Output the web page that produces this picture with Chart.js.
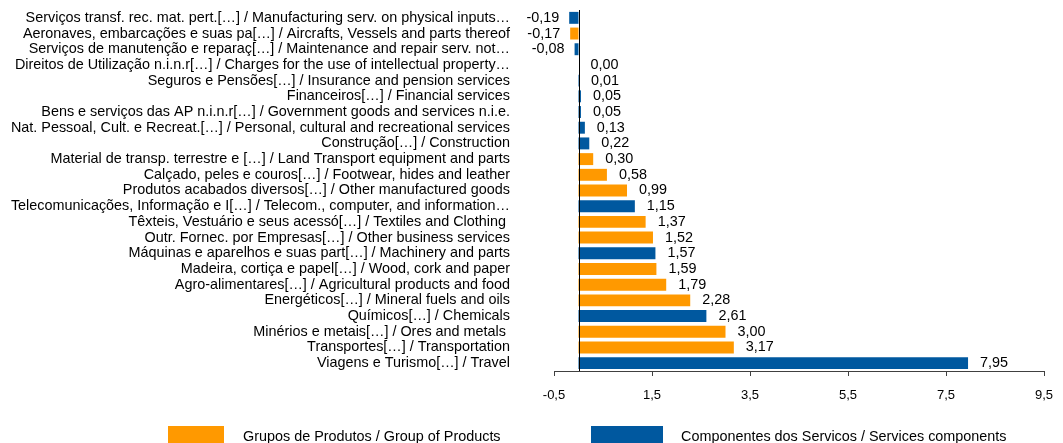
<!DOCTYPE html>
<html>
<head>
<meta charset="utf-8">
<script src="https://cdn.jsdelivr.net/npm/chart.js@4.4.1/dist/chart.umd.min.js"></script>
<style>
  body { margin: 0; background: #fff; }
  #wrap { position: relative; width: 1063px; height: 443px; overflow: hidden; }
  .leg { position: absolute; font: 14.4px "Liberation Sans", Arial, sans-serif; color: #000; white-space: nowrap; }
  .box { position: absolute; height: 18px; }
</style>
</head>
<body>
<div id="wrap">
  <canvas id="chart" width="1063" height="443"></canvas>
  <div class="box" id="boxProd" style="left:168px; top:426px; width:56px;"></div>
  <div class="leg" id="txtProd" style="left:243px; top:428px;"></div>
  <div class="box" id="boxServ" style="left:591px; top:426px; width:72px;"></div>
  <div class="leg" id="txtServ" style="left:681px; top:428px;"></div>
</div>
<script>
const PRODUCT_COLOR = '#ff9900';
const SERVICE_COLOR = '#00589f';

const SERIES_NAMES = ['Grupos de Produtos / Group of Products', 'Componentes dos Servicos / Services components'];

// ordem de cima para baixo, como no grafico
const CATEGORIES = [
  'Serviços transf. rec. mat. pert.[…] / Manufacturing serv. on physical inputs…',
  'Aeronaves, embarcações e suas pa[…] / Aircrafts, Vessels and parts thereof',
  'Serviços de manutenção e reparaç[…] / Maintenance and repair serv. not…',
  'Direitos de Utilização n.i.n.r[…] / Charges for the use of intellectual property…',
  'Seguros e Pensões[…] / Insurance and pension services',
  'Financeiros[…] / Financial services',
  'Bens e serviços das AP n.i.n.r[…] / Government goods and services n.i.e.',
  'Nat. Pessoal, Cult. e Recreat.[…] / Personal, cultural and recreational services',
  'Construção[…] / Construction',
  'Material de transp. terrestre e […] / Land Transport equipment and parts',
  'Calçado, peles e couros[…] / Footwear, hides and leather',
  'Produtos acabados diversos[…] / Other manufactured goods',
  'Telecomunicações, Informação e I[…] / Telecom., computer, and information…',
  'Têxteis, Vestuário e seus acessó[…] / Textiles and Clothing ',
  'Outr. Fornec. por Empresas[…] / Other business services',
  'Máquinas e aparelhos e suas part[…] / Machinery and parts',
  'Madeira, cortiça e papel[…] / Wood, cork and paper',
  'Agro-alimentares[…] / Agricultural products and food',
  'Energéticos[…] / Mineral fuels and oils',
  'Químicos[…] / Chemicals',
  'Minérios e metais[…] / Ores and metals ',
  'Transportes[…] / Transportation',
  'Viagens e Turismo[…] / Travel'
];

const PRODUCT_VALUES = [null, -0.17, null, null, null, null, null, null, null, 0.30, 0.58, 0.99, null, 1.37, 1.52, null, 1.59, 1.79, 2.28, null, 3.00, 3.17, null];
const SERVICE_VALUES = [-0.19, null, -0.08, 0.00, 0.01, 0.05, 0.05, 0.13, 0.22, null, null, null, 1.15, null, null, 1.57, null, null, null, 2.61, null, null, 7.95];

const X_TICKS = [-0.5, 1.5, 3.5, 5.5, 7.5, 9.5];

const FONT_FAMILY = '"Liberation Sans", Arial, sans-serif';
const NARROW_FAMILY = '"Liberation Sans Narrow", "Arial Narrow", "Liberation Sans", sans-serif';
const TEXT_SIZE = 14.4;

function formatComma(v, decimals) {
  return v.toFixed(decimals).replace('.', ',');
}

// linha vertical no zero
const zeroLinePlugin = {
  id: 'zeroLine',
  afterDatasetsDraw(chart) {
    const { ctx, chartArea, scales } = chart;
    const x = Math.round(scales.x.getPixelForValue(0)) + 0.5;
    ctx.save();
    ctx.strokeStyle = '#000';
    ctx.lineWidth = 1;
    ctx.beginPath();
    ctx.moveTo(x, chartArea.top);
    ctx.lineTo(x, chartArea.bottom);
    ctx.stroke();
    ctx.restore();
  }
};

// etiquetas com os valores ao lado de cada barra
const valueLabelsPlugin = {
  id: 'valueLabels',
  afterDatasetsDraw(chart) {
    const ctx = chart.ctx;
    ctx.save();
    ctx.font = TEXT_SIZE + 'px ' + FONT_FAMILY;
    ctx.fillStyle = '#000';
    ctx.textBaseline = 'middle';
    chart.data.datasets.forEach((ds, di) => {
      chart.getDatasetMeta(di).data.forEach((bar, i) => {
        const v = ds.data[i];
        if (v === null) return;
        const txt = formatComma(v, 2);
        if (v < 0) {
          ctx.textAlign = 'right';
          ctx.fillText(txt, bar.x - 10, bar.y);
        } else {
          ctx.textAlign = 'left';
          ctx.fillText(txt, bar.x + 12, bar.y);
        }
      });
    });
    ctx.restore();
  }
};

document.getElementById('boxProd').style.background = PRODUCT_COLOR;
document.getElementById('boxServ').style.background = SERVICE_COLOR;
document.getElementById('txtProd').textContent = SERIES_NAMES[0];
document.getElementById('txtServ').textContent = SERIES_NAMES[1];

Chart.defaults.font.family = FONT_FAMILY;
Chart.defaults.font.size = TEXT_SIZE;
Chart.defaults.color = '#000';

new Chart(document.getElementById('chart').getContext('2d'), {
  type: 'bar',
  data: {
    labels: CATEGORIES,
    datasets: [
      {
        label: SERIES_NAMES[0],
        data: PRODUCT_VALUES,
        backgroundColor: PRODUCT_COLOR,
        barPercentage: 0.76,
        categoryPercentage: 1
      },
      {
        label: SERIES_NAMES[1],
        data: SERVICE_VALUES,
        backgroundColor: SERVICE_COLOR,
        barPercentage: 0.76,
        categoryPercentage: 1
      }
    ]
  },
  options: {
    indexAxis: 'y',
    responsive: false,
    animation: false,
    grouped: false,
    layout: { padding: { top: 10, right: 19, bottom: 0, left: 0 } },
    plugins: {
      legend: { display: false },
      tooltip: { enabled: false }
    },
    scales: {
      x: {
        type: 'linear',
        min: -0.5,
        max: 9.5,
        afterBuildTicks: s => { s.ticks = X_TICKS.map(v => ({ value: v })); },
        afterFit: s => { s.height = 72; s.paddingLeft = 0; s.paddingRight = 0; },
        ticks: {
          padding: 12,
          maxRotation: 0,
          font: { size: 13, family: NARROW_FAMILY },
          callback: v => formatComma(v, 1)
        },
        grid: { display: true, drawOnChartArea: false, drawTicks: true, tickLength: 5, color: '#404040' },
        border: { display: true, color: '#404040', width: 1 }
      },
      y: {
        afterFit: s => { s.width = 554; s.paddingTop = 0; s.paddingBottom = 0; },
        ticks: { padding: 36, autoSkip: false },
        grid: { display: false },
        border: { display: false }
      }
    }
  },
  plugins: [zeroLinePlugin, valueLabelsPlugin]
});
</script>
</body>
</html>
